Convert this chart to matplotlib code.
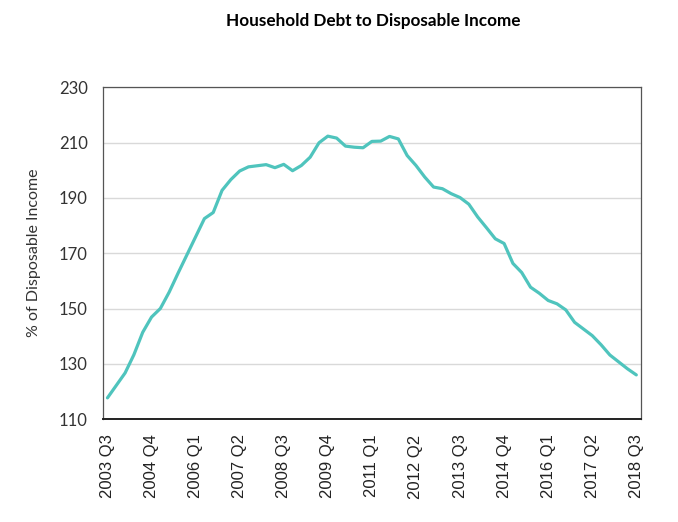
import matplotlib
matplotlib.use("Agg")
import matplotlib.pyplot as plt

# quarterly ratio, 2003 Q3 .. 2018 Q3
start_year, start_q = 2003, 3
debt_ratio = [
    117.7, 122.2, 126.7, 133.3, 141.4, 146.9, 150.0, 155.9, 162.7, 169.3,
    175.9, 182.5, 184.7, 192.7, 196.6, 199.7, 201.2, 201.6, 202.0, 200.9,
    202.1, 199.8, 201.7, 204.7, 209.9, 212.3, 211.6, 208.7, 208.3, 208.1,
    210.4, 210.5, 212.2, 211.3, 205.3, 201.7, 197.5, 193.9, 193.3, 191.5,
    190.1, 187.7, 183.1, 179.2, 175.2, 173.5, 166.3, 163.0, 157.7, 155.5,
    152.9, 151.7, 149.5, 145.0, 142.6, 140.2, 136.9, 133.2, 130.7, 128.2,
    126.0,
]

quarters = []
y, q = start_year, start_q
for _ in debt_ratio:
    quarters.append(f"{y} Q{q}")
    q += 1
    if q > 4:
        q, y = 1, y + 1

fig = plt.figure(figsize=(6.78, 5.22), dpi=100)
ax = fig.add_axes([0.152, 0.197, 0.793, 0.636])

x = list(range(len(debt_ratio)))
ax.plot(x, debt_ratio, color="#4fc4bd", linewidth=2.3, solid_capstyle="round", zorder=3)

ax.set_xlim(-0.5, len(debt_ratio) - 0.5)
ax.set_ylim(110, 230)
ax.set_yticks(range(110, 231, 20))
ax.set_xticks(x[::5])
ax.set_xticklabels(quarters[::5], rotation=90, fontsize=12,
                   family="Liberation Sans", color="#222222")
for lab in ax.get_yticklabels():
    lab.set_fontsize(12)
    lab.set_family("Lato")
    lab.set_color("#333333")
ax.tick_params(axis="y", length=0, pad=11)
ax.tick_params(axis="x", length=0, pad=11)

ax.grid(axis="y", color="#d9d9d9", linewidth=1)
ax.set_axisbelow(True)
for side in ["left", "right", "top"]:
    ax.spines[side].set_color("#555555")
    ax.spines[side].set_linewidth(0.9)
ax.spines["bottom"].set_color("#222222")
ax.spines["bottom"].set_linewidth(1.4)

ax.set_ylabel("% of Disposable Income", fontsize=11.5, family="Lato",
              color="#333333", labelpad=13)
fig.suptitle("Household Debt to Disposable Income", x=0.551, y=0.975,
             fontsize=12.3, fontweight="bold", family="Lato")

fig.savefig("out.png", dpi=100)
plt.close(fig)
